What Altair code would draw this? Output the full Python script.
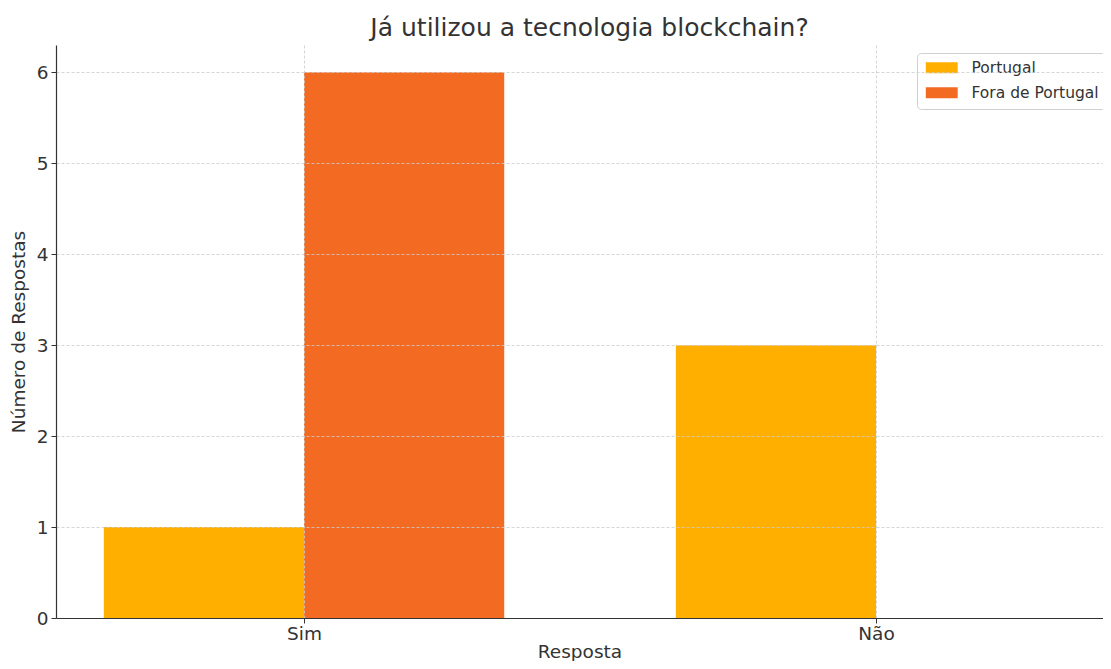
import altair as alt
import pandas as pd

categories = ["Sim", "Não"]
series_names = ["Portugal", "Fora de Portugal"]
portugal = [1, 3]
fora = [6, 0]
colors = ["#FFAF00", "#F36B22"]

BAR_W = 0.35
rows = []
for i, cat in enumerate(categories):
    rows.append({"serie": series_names[0], "cat": cat, "x0": i - BAR_W, "x1": i, "v": portugal[i]})
    rows.append({"serie": series_names[1], "cat": cat, "x0": i, "x1": i + BAR_W, "v": fora[i]})
df = pd.DataFrame(rows)

label_expr = " : ".join(
    [f"datum.value == {i} ? '{c}'" for i, c in enumerate(categories)]
) + " : ''"

FONT = "DejaVu Sans"
TXT = "#333333"

chart = alt.Chart(df).mark_bar(stroke=None).encode(
    x=alt.X("x0:Q",
            scale=alt.Scale(domain=[-0.4336, 1.3968], nice=False, zero=False),
            axis=alt.Axis(values=[0, 1], labelExpr=label_expr, title="Resposta",
                          grid=True, gridDash=[3, 2], gridColor="#cccccc", gridWidth=0.8,
                          domainColor=TXT, domainWidth=1.2, tickColor=TXT, tickSize=5,
                          labelFontSize=18.5, labelColor=TXT, labelPadding=1,
                          titleFontSize=18.5, titleColor=TXT, titleFontWeight="normal",
                          titlePadding=0, zindex=1)),
    x2="x1:Q",
    y=alt.Y("v:Q",
            scale=alt.Scale(domain=[0, 6.3], nice=False),
            axis=alt.Axis(values=[0, 1, 2, 3, 4, 5, 6], format="d", title="Número de Respostas",
                          grid=True, gridDash=[3, 2], gridColor="#cccccc", gridWidth=0.8,
                          domainColor=TXT, domainWidth=1.2, tickColor=TXT, tickSize=5,
                          labelFontSize=18.5, labelColor=TXT, labelPadding=3,
                          titleFontSize=18.5, titleColor=TXT, titleFontWeight="normal",
                          titlePadding=8, zindex=1)),
    y2=alt.datum(0),
    color=alt.Color("serie:N",
                    scale=alt.Scale(domain=series_names, range=colors),
                    legend=alt.Legend(title=None, orient="none", legendX=861, legendY=8,
                                      symbolType="M-2.9,-1H2.9V1H-2.9Z", symbolSize=121,
                                      symbolOffset=10, labelOffset=22,
                                      labelFontSize=15.5, labelColor=TXT, labelFont=FONT,
                                      fillColor="white", strokeColor="#d0d0d0",
                                      cornerRadius=4, padding=7, rowPadding=8,
                                      symbolStrokeWidth=0)),
).properties(
    width=1047,
    height=573,
    title=alt.TitleParams("Já utilizou a tecnologia blockchain?", fontSize=25,
                          fontWeight="normal", color=TXT, font=FONT, anchor="middle",
                          dx=10, offset=4),
    autosize=alt.AutoSizeParams(type="none"),
    padding={"left": 48, "top": 37, "right": 0, "bottom": 43},
).configure(font=FONT).configure_view(stroke=None)

chart.save("out.html", embed_options={"renderer": "svg", "actions": False})
